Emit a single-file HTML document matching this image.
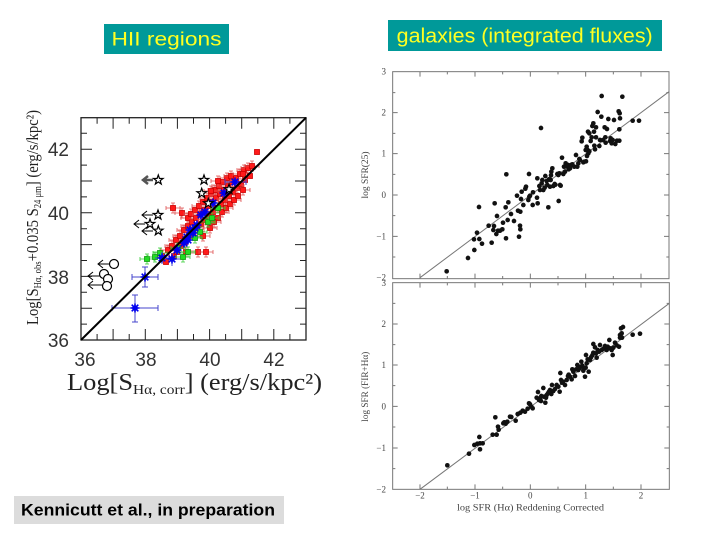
<!DOCTYPE html>
<html><head><meta charset="utf-8"><style>
html,body{margin:0;padding:0;background:#fff;}
svg{display:block;}
</style></head><body>
<svg width="720" height="540" viewBox="0 0 720 540" xmlns="http://www.w3.org/2000/svg">
<defs>
<g id="r"><rect x="-2.5" y="-2.5" width="5" height="5" fill="#ff1a1a" stroke="#cc0000" stroke-width="0.8"/></g>
<g id="re"><path d="M-7 0H7M-7 -2V2M7 -2V2M0 -5V5M-2 -5H2M-2 5H2" stroke="#e05050" stroke-width="0.8" fill="none"/><rect x="-2.5" y="-2.5" width="5" height="5" fill="#ff1a1a" stroke="#cc0000" stroke-width="0.8"/></g>
<g id="g"><path d="M-7 0H7M-7 -2V2M7 -2V2M0 -5V5M-2 -5H2M-2 5H2" stroke="#33cc33" stroke-width="0.8" fill="none"/><rect x="-2.5" y="-2.5" width="5" height="5" fill="#22dd22" stroke="#119911" stroke-width="0.8"/></g>
<g id="b"><circle r="2.8" fill="#0000ee"/><path d="M-4.5 0H4.5M0 -4.5V4.5M-3.3 -3.3L3.3 3.3M-3.3 3.3L3.3 -3.3" stroke="#0000ee" stroke-width="1.6"/></g>
<polygon id="s" points="0,-5 1.18,-1.62 4.76,-1.55 1.9,0.62 2.94,4.05 0,2 -2.94,4.05 -1.9,0.62 -4.76,-1.55 -1.18,-1.62" fill="#fff" stroke="#000" stroke-width="1.2"/>
</defs>

<!-- Title boxes -->
<rect x="104" y="24" width="125" height="30" fill="#009999"/>
<text x="166.5" y="45.5" text-anchor="middle" font-family="Liberation Sans, sans-serif" font-size="19" fill="#ffff22" textLength="110" lengthAdjust="spacingAndGlyphs">HII regions</text>
<rect x="388" y="20" width="274" height="31" fill="#009999"/>
<text x="524.7" y="42.5" text-anchor="middle" font-family="Liberation Sans, sans-serif" font-size="20" fill="#ffff22" textLength="256" lengthAdjust="spacingAndGlyphs">galaxies (integrated fluxes)</text>
<rect x="14" y="496" width="270" height="28" fill="#dcdcdc"/>
<text x="148" y="515.5" text-anchor="middle" font-family="Liberation Sans, sans-serif" font-size="17" font-weight="bold" fill="#000" textLength="254" lengthAdjust="spacingAndGlyphs">Kennicutt et al., in preparation</text>

<!-- LEFT PLOT -->
<rect x="81" y="117.7" width="225" height="222.3" fill="none" stroke="#222" stroke-width="1.3"/>
<path stroke="#222" stroke-width="1" fill="none" d="
M97.1 340v-6M113.1 340v-11M129.2 340v-6M145.3 340v-11M161.4 340v-6M177.4 340v-11M193.5 340v-6M209.6 340v-11M225.6 340v-6M241.7 340v-11M257.8 340v-6M273.8 340v-11M289.9 340v-6
M97.1 117.7v6M113.1 117.7v11M129.2 117.7v6M145.3 117.7v11M161.4 117.7v6M177.4 117.7v11M193.5 117.7v6M209.6 117.7v11M225.6 117.7v6M241.7 117.7v11M257.8 117.7v6M273.8 117.7v11M289.9 117.7v6
M81 324.1h6M81 308.2h11M81 292.3h6M81 276.4h11M81 260.5h6M81 244.6h11M81 228.7h6M81 212.8h11M81 196.9h6M81 181h11M81 165.1h6M81 149.2h11M81 133.3h6
M306 324.1h-6M306 308.2h-11M306 292.3h-6M306 276.4h-11M306 260.5h-6M306 244.6h-11M306 228.7h-6M306 212.8h-11M306 196.9h-6M306 181h-11M306 165.1h-6M306 149.2h-11M306 133.3h-6"/>
<g font-family="Liberation Sans, sans-serif" font-size="19" fill="#333">
<text x="69" y="156" text-anchor="end">42</text>
<text x="69" y="220" text-anchor="end">40</text>
<text x="69" y="284" text-anchor="end">38</text>
<text x="69" y="347" text-anchor="end">36</text>
<text x="85" y="366" text-anchor="middle">36</text>
<text x="146" y="366" text-anchor="middle">38</text>
<text x="210" y="366" text-anchor="middle">40</text>
<text x="274" y="366" text-anchor="middle">42</text>
</g>
<text x="67" y="390" font-family="Liberation Serif, serif" font-size="24" fill="#222" textLength="255" lengthAdjust="spacingAndGlyphs">Log[S<tspan font-size="14" dy="4">Hα, corr</tspan><tspan dy="-4">] (erg/s/kpc²)</tspan></text>
<text transform="translate(38,325) rotate(-90)" x="0" y="0" font-family="Liberation Serif, serif" font-size="17" fill="#222" textLength="215" lengthAdjust="spacingAndGlyphs">Log[S<tspan font-size="10" dy="3">Hα, obs</tspan><tspan dy="-3">+0.035 S</tspan><tspan font-size="10" dy="3">24 μm</tspan><tspan dy="-3">] (erg/s/kpc²)</tspan></text>

<!-- red points -->
<g>
<use href="#re" x="162" y="256"/><use href="#r" x="166" y="262"/><use href="#re" x="168" y="250"/>
<use href="#re" x="172" y="246"/><use href="#re" x="173" y="208"/><use href="#r" x="174" y="256"/>
<use href="#re" x="176" y="240"/><use href="#r" x="177" y="252"/><use href="#re" x="180" y="236"/>
<use href="#r" x="181" y="246"/><use href="#re" x="182" y="213"/><use href="#re" x="184" y="230"/>
<use href="#r" x="185" y="242"/><use href="#re" x="186" y="252"/><use href="#re" x="188" y="226"/>
<use href="#r" x="189" y="236"/><use href="#re" x="188" y="218"/><use href="#r" x="192" y="222"/>
<use href="#re" x="193" y="232"/><use href="#re" x="191" y="214"/><use href="#r" x="196" y="218"/>
<use href="#re" x="197" y="228"/><use href="#r" x="195" y="210"/><use href="#re" x="198" y="252"/>
<use href="#re" x="200" y="214"/><use href="#r" x="201" y="224"/><use href="#re" x="199" y="206"/>
<use href="#re" x="203" y="236"/><use href="#r" x="204" y="210"/><use href="#re" x="205" y="220"/>
<use href="#r" x="203" y="202"/><use href="#re" x="206" y="252"/><use href="#re" x="208" y="206"/>
<use href="#r" x="209" y="216"/><use href="#re" x="207" y="198"/><use href="#re" x="210" y="228"/>
<use href="#r" x="212" y="202"/><use href="#re" x="213" y="212"/><use href="#r" x="211" y="194"/>
<use href="#re" x="214" y="222"/><use href="#re" x="216" y="198"/><use href="#r" x="217" y="208"/>
<use href="#re" x="215" y="190"/><use href="#r" x="218" y="218"/><use href="#re" x="220" y="194"/>
<use href="#r" x="221" y="204"/><use href="#re" x="219" y="186"/><use href="#re" x="222" y="212"/>
<use href="#r" x="224" y="190"/><use href="#re" x="225" y="200"/><use href="#r" x="223" y="182"/>
<use href="#re" x="226" y="208"/><use href="#re" x="228" y="186"/><use href="#r" x="229" y="196"/>
<use href="#re" x="227" y="178"/><use href="#r" x="230" y="204"/><use href="#re" x="232" y="182"/>
<use href="#r" x="233" y="192"/><use href="#re" x="231" y="176"/><use href="#re" x="234" y="200"/>
<use href="#r" x="236" y="178"/><use href="#re" x="237" y="188"/><use href="#r" x="238" y="196"/>
<use href="#re" x="240" y="174"/><use href="#r" x="241" y="184"/><use href="#re" x="243" y="190"/>
<use href="#re" x="244" y="170"/><use href="#r" x="245" y="180"/><use href="#re" x="248" y="168"/>
<use href="#r" x="250" y="176"/><use href="#re" x="252" y="166"/><use href="#r" x="257" y="152"/>
<use href="#re" x="218" y="181"/><use href="#r" x="243" y="174"/><use href="#re" x="211" y="191"/>
</g>
<!-- green points -->
<g>
<use href="#g" x="147" y="259"/><use href="#g" x="155" y="257"/><use href="#g" x="160" y="253"/>
<use href="#g" x="183" y="257"/><use href="#g" x="188" y="252"/><use href="#g" x="195" y="238"/>
<use href="#g" x="200" y="232"/><use href="#g" x="208" y="222"/><use href="#g" x="212" y="218"/>
<use href="#g" x="178" y="248"/><use href="#g" x="218" y="208"/>
</g>
<!-- blue points -->
<path stroke="#4444cc" stroke-width="1" fill="none" d="
M112 308H158M112 305v6M158 305v6M135 295V322M132 295h6M132 322h6
M132 277H158M132 274v6M158 274v6M145 267V287M142 267h6M142 287h6
M155 258H170M162 252V264M166 259H180M172 253V266
M225 182H246M225 179v6M246 179v6"/>
<g>
<use href="#b" x="135" y="308"/><use href="#b" x="145" y="277"/><use href="#b" x="162" y="258"/>
<use href="#b" x="172" y="259"/><use href="#b" x="177" y="250"/><use href="#b" x="187" y="237"/>
<use href="#b" x="188" y="240"/><use href="#b" x="190" y="230"/><use href="#b" x="193" y="233"/>
<use href="#b" x="201" y="215"/><use href="#b" x="213" y="203"/><use href="#b" x="235" y="182"/>
<use href="#b" x="197" y="225"/><use href="#b" x="184" y="243"/><use href="#b" x="205" y="212"/>
<use href="#b" x="224" y="193"/><use href="#b" x="195" y="228"/>
</g>
<!-- black stars with arrows -->
<path stroke="#555" stroke-width="2.5" fill="none" d="M153 180H143M148 176L143 180L148 184"/>
<path stroke="#000" stroke-width="1" fill="none" d="M153 215H142M147 211L142 215L147 219M145 224H134M139 220L134 224L139 228M153 231H142M147 227L142 231L147 235
M109 264H98M103 260L98 264L103 268M100 276H88M93 272L88 276L93 280M102 285H88M93 281L88 285L93 289"/>
<use href="#s" x="158.3" y="180" stroke-width="2.5"/>
<g>
<use href="#s" x="204" y="180"/><use href="#s" x="201.7" y="193.3"/><use href="#s" x="208.3" y="203.3"/>
<use href="#s" x="229" y="189.3"/><use href="#s" x="158" y="215"/><use href="#s" x="150" y="224"/>
<use href="#s" x="158.3" y="230.7"/>
</g>
<g fill="#fff" stroke="#000" stroke-width="1.2">
<circle cx="114" cy="264" r="4.5"/><circle cx="104" cy="274" r="4.5"/><circle cx="108" cy="279" r="4.5"/><circle cx="107" cy="286" r="4.5"/>
</g>
<line x1="81" y1="340" x2="306" y2="117.7" stroke="#000" stroke-width="2"/>

<!-- RIGHT TOP PANEL -->
<g transform="translate(340,50) scale(0.333333)">
<rect x="158" y="65" width="829" height="621" fill="none" stroke="#777" stroke-width="3"/>
<path stroke="#777" stroke-width="3" fill="none" d="
M240 686v-15M322 686v-8M405 686v-15M488 686v-8M571 686v-15M654 686v-8M737 686v-15M820 686v-8M903 686v-15
M240 65v15M322 65v8M405 65v15M488 65v8M571 65v15M654 65v8M737 65v15M820 65v8M903 65v15
M158 128h8M158 188h15M158 250h8M158 311h15M158 373h8M158 435h15M158 497h8M158 559h15M158 621h8
M987 128h-8M987 188h-15M987 250h-8M987 311h-15M987 373h-8M987 435h-15M987 497h-8M987 559h-15M987 621h-8"/>
<line x1="240" y1="683" x2="987" y2="125" stroke="#777" stroke-width="3"/>
<g fill="#111">
<circle cx="320" cy="664" r="7"/><circle cx="384" cy="624" r="7"/><circle cx="403" cy="600" r="7"/><circle cx="402" cy="568" r="7"/><circle cx="418" cy="567" r="7"/><circle cx="411" cy="548" r="7"/><circle cx="426" cy="581" r="7"/><circle cx="417" cy="471" r="7"/><circle cx="446" cy="527" r="7"/><circle cx="455" cy="578" r="7"/><circle cx="460" cy="540" r="7"/><circle cx="462" cy="528" r="7"/><circle cx="464" cy="460" r="7"/><circle cx="469" cy="552" r="7"/><circle cx="471" cy="498" r="7"/><circle cx="474" cy="542" r="7"/><circle cx="480" cy="542" r="7"/><circle cx="487" cy="538" r="7"/><circle cx="489" cy="518" r="7"/><circle cx="497" cy="472" r="7"/><circle cx="498" cy="565" r="7"/><circle cx="499" cy="373" r="7"/><circle cx="503" cy="510" r="7"/><circle cx="505" cy="457" r="7"/><circle cx="513" cy="492" r="7"/><circle cx="522" cy="513" r="7"/><circle cx="531" cy="437" r="7"/><circle cx="534" cy="482" r="7"/><circle cx="537" cy="560" r="7"/><circle cx="540" cy="527" r="7"/><circle cx="541" cy="538" r="7"/><circle cx="541" cy="485" r="7"/><circle cx="543" cy="447" r="7"/><circle cx="545" cy="425" r="7"/><circle cx="550" cy="465" r="7"/><circle cx="556" cy="416" r="7"/><circle cx="558" cy="410" r="7"/><circle cx="565" cy="450" r="7"/><circle cx="567" cy="372" r="7"/><circle cx="568" cy="440" r="7"/><circle cx="570" cy="437" r="7"/><circle cx="578" cy="465" r="7"/><circle cx="579" cy="427" r="7"/><circle cx="591" cy="443" r="7"/><circle cx="593" cy="460" r="7"/><circle cx="592" cy="385" r="7"/><circle cx="598" cy="408" r="7"/><circle cx="600" cy="420" r="7"/><circle cx="603" cy="234" r="7"/><circle cx="605" cy="400" r="7"/><circle cx="607" cy="390" r="7"/><circle cx="610" cy="420" r="7"/><circle cx="614" cy="413" r="7"/><circle cx="616" cy="378" r="7"/><circle cx="620" cy="393" r="7"/><circle cx="622" cy="405" r="7"/><circle cx="625" cy="472" r="7"/><circle cx="627" cy="388" r="7"/><circle cx="630" cy="410" r="7"/><circle cx="632" cy="390" r="7"/><circle cx="633" cy="376" r="7"/><circle cx="634" cy="365" r="7"/><circle cx="637" cy="355" r="7"/><circle cx="640" cy="408" r="7"/><circle cx="644" cy="402" r="7"/><circle cx="646" cy="404" r="7"/><circle cx="652" cy="372" r="7"/><circle cx="655" cy="375" r="7"/><circle cx="656" cy="453" r="7"/><circle cx="658" cy="370" r="7"/><circle cx="660" cy="405" r="7"/><circle cx="662" cy="407" r="7"/><circle cx="666" cy="323" r="7"/><circle cx="670" cy="372" r="7"/><circle cx="672" cy="350" r="7"/><circle cx="675" cy="365" r="7"/><circle cx="677" cy="340" r="7"/><circle cx="680" cy="348" r="7"/><circle cx="684" cy="345" r="7"/><circle cx="686" cy="358" r="7"/><circle cx="690" cy="355" r="7"/><circle cx="693" cy="345" r="7"/><circle cx="697" cy="343" r="7"/><circle cx="703" cy="350" r="7"/><circle cx="708" cy="315" r="7"/><circle cx="712" cy="350" r="7"/><circle cx="715" cy="340" r="7"/><circle cx="718" cy="327" r="7"/><circle cx="720" cy="330" r="7"/><circle cx="725" cy="274" r="7"/><circle cx="727" cy="263" r="7"/><circle cx="730" cy="337" r="7"/><circle cx="733" cy="335" r="7"/><circle cx="737" cy="300" r="7"/><circle cx="740" cy="290" r="7"/><circle cx="738" cy="334" r="7"/><circle cx="741" cy="318" r="7"/><circle cx="745" cy="310" r="7"/><circle cx="743" cy="300" r="7"/><circle cx="748" cy="304" r="7"/><circle cx="744" cy="245" r="7"/><circle cx="748" cy="250" r="7"/><circle cx="752" cy="273" r="7"/><circle cx="755" cy="262" r="7"/><circle cx="757" cy="228" r="7"/><circle cx="760" cy="220" r="7"/><circle cx="763" cy="287" r="7"/><circle cx="765" cy="298" r="7"/><circle cx="762" cy="245" r="7"/><circle cx="768" cy="262" r="7"/><circle cx="768" cy="232" r="7"/><circle cx="773" cy="186" r="7"/><circle cx="778" cy="288" r="7"/><circle cx="780" cy="270" r="7"/><circle cx="785" cy="138" r="7"/><circle cx="784" cy="200" r="7"/><circle cx="789" cy="270" r="7"/><circle cx="794" cy="232" r="7"/><circle cx="796" cy="262" r="7"/><circle cx="797" cy="278" r="7"/><circle cx="801" cy="237" r="7"/><circle cx="805" cy="207" r="7"/><circle cx="810" cy="273" r="7"/><circle cx="812" cy="265" r="7"/><circle cx="815" cy="280" r="7"/><circle cx="818" cy="270" r="7"/><circle cx="822" cy="210" r="7"/><circle cx="826" cy="282" r="7"/><circle cx="831" cy="272" r="7"/><circle cx="836" cy="184" r="7"/><circle cx="839" cy="190" r="7"/><circle cx="838" cy="238" r="7"/><circle cx="840" cy="205" r="7"/><circle cx="838" cy="272" r="7"/><circle cx="847" cy="140" r="7"/><circle cx="878" cy="212" r="7"/><circle cx="897" cy="212" r="7"/>
</g>
</g>

<!-- RIGHT BOTTOM PANEL -->
<g transform="translate(340,270) scale(0.333333)">
<rect x="158" y="38" width="830" height="620" fill="none" stroke="#777" stroke-width="3"/>
<path stroke="#777" stroke-width="3" fill="none" d="
M240 658v-15M322 658v-8M405 658v-15M488 658v-8M571 658v-15M654 658v-8M737 658v-15M820 658v-8M903 658v-15
M240 38v15M322 38v8M405 38v15M488 38v8M571 38v15M654 38v8M737 38v15M820 38v8M903 38v15
M158 100h8M158 162h15M158 224h8M158 285h15M158 347h8M158 409h15M158 471h8M158 534h15M158 596h8
M988 100h-8M988 162h-15M988 224h-8M988 285h-15M988 347h-8M988 409h-15M988 471h-8M988 534h-15M988 596h-8"/>
<line x1="240" y1="658" x2="988" y2="100" stroke="#777" stroke-width="3"/>
<g fill="#111">
<circle cx="322" cy="586" r="7"/><circle cx="387" cy="551" r="7"/><circle cx="403" cy="525" r="7"/><circle cx="412" cy="521" r="7"/><circle cx="418" cy="501" r="7"/><circle cx="420" cy="520" r="7"/><circle cx="420" cy="538" r="7"/><circle cx="428" cy="520" r="7"/><circle cx="458" cy="494" r="7"/><circle cx="466" cy="442" r="7"/><circle cx="470" cy="494" r="7"/><circle cx="474" cy="470" r="7"/><circle cx="476" cy="479" r="7"/><circle cx="490" cy="460" r="7"/><circle cx="493" cy="457" r="7"/><circle cx="497" cy="461" r="7"/><circle cx="502" cy="455" r="7"/><circle cx="510" cy="440" r="7"/><circle cx="514" cy="441" r="7"/><circle cx="527" cy="452" r="7"/><circle cx="533" cy="432" r="7"/><circle cx="541" cy="428" r="7"/><circle cx="548" cy="422" r="7"/><circle cx="555" cy="425" r="7"/><circle cx="563" cy="416" r="7"/><circle cx="567" cy="400" r="7"/><circle cx="570" cy="403" r="7"/><circle cx="574" cy="410" r="7"/><circle cx="578" cy="415" r="7"/><circle cx="594" cy="366" r="7"/><circle cx="597" cy="390" r="7"/><circle cx="600" cy="385" r="7"/><circle cx="604" cy="378" r="7"/><circle cx="610" cy="354" r="7"/><circle cx="612" cy="380" r="7"/><circle cx="616" cy="398" r="7"/><circle cx="618" cy="383" r="7"/><circle cx="620" cy="375" r="7"/><circle cx="624" cy="370" r="7"/><circle cx="627" cy="365" r="7"/><circle cx="630" cy="360" r="7"/><circle cx="634" cy="372" r="7"/><circle cx="636" cy="345" r="7"/><circle cx="640" cy="363" r="7"/><circle cx="645" cy="357" r="7"/><circle cx="650" cy="345" r="7"/><circle cx="655" cy="350" r="7"/><circle cx="659" cy="365" r="7"/><circle cx="661" cy="309" r="7"/><circle cx="663" cy="330" r="7"/><circle cx="666" cy="338" r="7"/><circle cx="669" cy="335" r="7"/><circle cx="675" cy="345" r="7"/><circle cx="680" cy="330" r="7"/><circle cx="684" cy="318" r="7"/><circle cx="686" cy="314" r="7"/><circle cx="690" cy="320" r="7"/><circle cx="695" cy="328" r="7"/><circle cx="697" cy="298" r="7"/><circle cx="700" cy="305" r="7"/><circle cx="705" cy="318" r="7"/><circle cx="709" cy="298" r="7"/><circle cx="712" cy="285" r="7"/><circle cx="715" cy="300" r="7"/><circle cx="718" cy="295" r="7"/><circle cx="722" cy="290" r="7"/><circle cx="724" cy="275" r="7"/><circle cx="727" cy="287" r="7"/><circle cx="730" cy="302" r="7"/><circle cx="733" cy="295" r="7"/><circle cx="735" cy="320" r="7"/><circle cx="737" cy="293" r="7"/><circle cx="738" cy="255" r="7"/><circle cx="740" cy="280" r="7"/><circle cx="743" cy="268" r="7"/><circle cx="746" cy="305" r="7"/><circle cx="750" cy="270" r="7"/><circle cx="753" cy="262" r="7"/><circle cx="757" cy="256" r="7"/><circle cx="760" cy="248" r="7"/><circle cx="765" cy="232" r="7"/><circle cx="770" cy="263" r="7"/><circle cx="768" cy="250" r="7"/><circle cx="773" cy="240" r="7"/><circle cx="777" cy="245" r="7"/><circle cx="780" cy="225" r="7"/><circle cx="785" cy="240" r="7"/><circle cx="790" cy="236" r="7"/><circle cx="795" cy="228" r="7"/><circle cx="800" cy="240" r="7"/><circle cx="803" cy="230" r="7"/><circle cx="808" cy="210" r="7"/><circle cx="810" cy="235" r="7"/><circle cx="815" cy="240" r="7"/><circle cx="818" cy="255" r="7"/><circle cx="820" cy="233" r="7"/><circle cx="825" cy="218" r="7"/><circle cx="830" cy="226" r="7"/><circle cx="837" cy="230" r="7"/><circle cx="840" cy="203" r="7"/><circle cx="840" cy="195" r="7"/><circle cx="843" cy="175" r="7"/><circle cx="846" cy="203" r="7"/><circle cx="849" cy="171" r="7"/><circle cx="845" cy="190" r="7"/><circle cx="878" cy="194" r="7"/><circle cx="900" cy="191" r="7"/><circle cx="760" cy="222" r="7"/><circle cx="590" cy="383" r="7"/><circle cx="603" cy="393" r="7"/>
</g>
</g>

<!-- right panel labels -->
<g font-family="Liberation Serif, serif" font-size="9" fill="#444" text-anchor="end">
<text x="386" y="74.7">3</text>
<text x="386" y="115.7">2</text>
<text x="386" y="156.7">1</text>
<text x="386" y="198">0</text>
<text x="386" y="239.3">−1</text>
<text x="386" y="280.7">−2</text>
<text x="386" y="286">3</text>
<text x="386" y="327">2</text>
<text x="386" y="368">1</text>
<text x="386" y="409.3">0</text>
<text x="386" y="451">−1</text>
<text x="386" y="492.3">−2</text>
</g>
<g font-family="Liberation Serif, serif" font-size="9" fill="#444" text-anchor="middle">
<text x="420" y="498.5">−2</text>
<text x="475" y="498.5">−1</text>
<text x="530.3" y="498.5">0</text>
<text x="585.7" y="498.5">1</text>
<text x="641" y="498.5">2</text>
<text x="530.5" y="510.5" textLength="147" lengthAdjust="spacingAndGlyphs">log SFR (Hα)  Reddening Corrected</text>
<text transform="translate(368,175) rotate(-90)" x="0" y="0" textLength="47" lengthAdjust="spacingAndGlyphs">log SFR(25)</text>
<text transform="translate(368,386.7) rotate(-90)" x="0" y="0" textLength="70" lengthAdjust="spacingAndGlyphs">log SFR (FIR+Hα)</text>
</g>
</svg>
</body></html>
